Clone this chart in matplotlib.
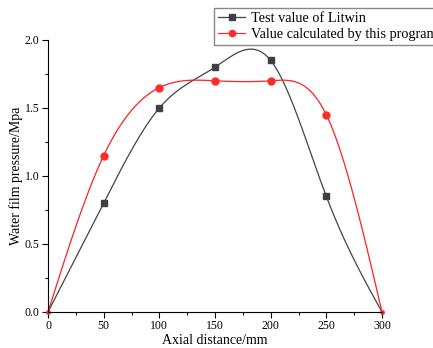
import numpy as np
import matplotlib.pyplot as plt
from matplotlib.ticker import MultipleLocator

plt.rcParams['font.family'] = ['Liberation Serif', 'DejaVu Serif']

# axial position (mm) and water film pressure (MPa)
x = [0, 50, 100, 150, 200, 250, 300]
litwin = [0, 0.80, 1.50, 1.80, 1.85, 0.85, 0]
calc = [0, 1.15, 1.65, 1.70, 1.70, 1.45, 0]


def spline(xs, ys, n=300):
    # natural cubic spline through the points
    xs = np.asarray(xs, float)
    ys = np.asarray(ys, float)
    h = np.diff(xs)
    m = len(xs)
    A = np.zeros((m, m))
    b = np.zeros(m)
    A[0, 0] = A[-1, -1] = 1
    for i in range(1, m - 1):
        A[i, i - 1] = h[i - 1]
        A[i, i] = 2 * (h[i - 1] + h[i])
        A[i, i + 1] = h[i]
        b[i] = 6 * ((ys[i + 1] - ys[i]) / h[i] - (ys[i] - ys[i - 1]) / h[i - 1])
    M = np.linalg.solve(A, b)
    xx = np.linspace(xs[0], xs[-1], n)
    k = np.clip(np.searchsorted(xs, xx) - 1, 0, m - 2)
    t0 = xs[k + 1] - xx
    t1 = xx - xs[k]
    hk = h[k]
    yy = (M[k] * t0 ** 3 + M[k + 1] * t1 ** 3) / (6 * hk) \
        + (ys[k] / hk - M[k] * hk / 6) * t0 + (ys[k + 1] / hk - M[k + 1] * hk / 6) * t1
    return xx, yy


fig = plt.figure(figsize=(4.33, 3.48), dpi=100)
ax = fig.add_axes([48 / 433, 36 / 348, 334 / 433, 272 / 348])

sx, sy = spline(x, litwin)
ax.plot(sx, sy, color='#444444', lw=0.9)
ax.plot(x[1:-1], litwin[1:-1], 's', color='#404040', ms=4.5, ls='none')
l1, = ax.plot([], [], '-s', color='#404040', lw=0.9, ms=4)

sx, sy = spline(x, calc)
ax.plot(sx, sy, color='#ff2020', lw=0.9)
ax.plot(x[1:-1], calc[1:-1], 'o', color='#ff2a2a', ms=5, ls='none')
ax.plot([0, 300], [0, 0], 'o', color='#ff2a2a', ms=2.5, ls='none', clip_on=False)
l2, = ax.plot([], [], '-o', color='#ff2a2a', lw=0.9, ms=4.5)

ax.set_xlim(0, 300)
ax.set_ylim(0, 2.0)
ax.xaxis.set_major_locator(MultipleLocator(50))
ax.xaxis.set_minor_locator(MultipleLocator(25))
ax.yaxis.set_major_locator(MultipleLocator(0.5))
ax.yaxis.set_minor_locator(MultipleLocator(0.25))
ax.yaxis.set_major_formatter(plt.FormatStrFormatter('%.1f'))
ax.spines['top'].set_visible(False)
ax.spines['right'].set_visible(False)
ax.tick_params(which='major', direction='out', length=4, width=0.8, labelsize=8.5, pad=2)
ax.tick_params(which='minor', direction='out', length=2.5, width=0.8)
ax.set_xlabel('Axial distance/mm', fontsize=10, labelpad=1)
ax.set_ylabel('Water film pressure/Mpa', fontsize=10, labelpad=1)

fig.legend([l1, l2], ['Test value of Litwin', 'Value calculated by this program'],
           loc='upper left', bbox_to_anchor=(214 / 433, 1 - 8 / 348), fontsize=10.3,
           frameon=True, fancybox=False, edgecolor='#888888', framealpha=1,
           handlelength=1.9, handletextpad=0.4, borderpad=0.3, labelspacing=0.2,
           borderaxespad=0)

fig.savefig('out.png', dpi=100)
